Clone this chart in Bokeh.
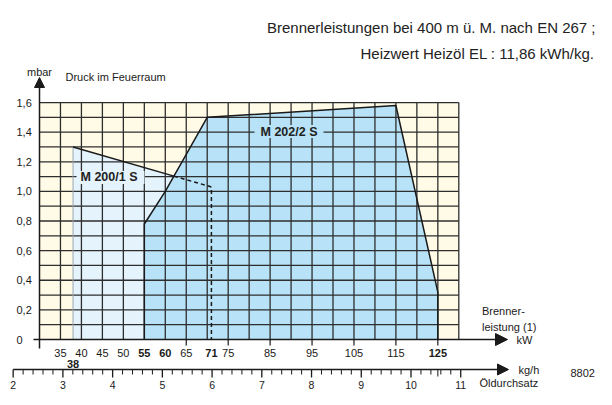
from bokeh.plotting import figure
from bokeh.models import Range1d, Arrow, NormalHead
from bokeh.core.properties import value
from bokeh.embed import file_html
from bokeh.resources import INLINE

# ---------------- data ----------------
HEIZWERT = 11.86  # kWh/kg

kw_grid = [35, 40, 45, 50, 55, 60, 65, 70, 75, 80, 85, 90, 95, 100, 105, 110, 115, 120, 125, 130]
mbar_grid = [0.1, 0.2, 0.3, 0.4, 0.5, 0.6, 0.7, 0.8, 0.9, 1.0, 1.1, 1.2, 1.3, 1.4, 1.5, 1.6]

y_tick_values = [0, 0.2, 0.4, 0.6, 0.8, 1.0, 1.2, 1.4, 1.6]
y_tick_labels = ["0", "0,2", "0,4", "0,6", "0,8", "1,0", "1,2", "1,4", "1,6"]

kw_labels_normal = [35, 40, 45, 50, 65, 75, 85, 95, 105, 115]
kw_labels_bold = [55, 60, 71, 125]
kw_label_low = [38]
kw_ticks = [65, 75, 85, 95, 105, 115, 125]

kgh_major = [2, 3, 4, 5, 6, 7, 8, 9, 10, 11]
kgh_minor = [2.2, 2.4, 2.6, 2.8, 3.2, 3.4, 3.6, 3.8, 4.2, 4.4, 4.6, 4.8,
             5.2, 5.4, 5.6, 5.8, 6.2, 6.4, 6.6, 6.8, 7.2, 7.4, 7.6, 7.8,
             8.2, 8.4, 8.6, 8.8, 9.2, 9.4, 9.6, 9.8, 10.2, 10.4, 10.6, 10.8]

# M 200/1 S working field
m200_kw = [38, 38, 71, 71]
m200_mbar = [0.0, 1.30, 1.03, 0.0]

# M 202/2 S working field
m202_kw = [55, 55, 60, 70, 115, 125, 125]
m202_mbar = [0.0, 0.78, 1.00, 1.50, 1.58, 0.32, 0.0]

# ---------------- pixel helpers (layout only) ----------------
SX, X0PX = 4.193, 39.0   # px per kW, canvas px of kW=30
SY, Y0PX = 148.1, 339.0  # px per mbar, canvas px of mbar=0
W, H = 596, 389


def kx(px):
    return 30 + (px - X0PX) / SX


def my(py):
    return (Y0PX - py) / SY


FONT = value("Liberation Sans")
INK = "#1a1a1a"
GRID = "#2e2e2e"
CREAM = "#fffbe6"
LIGHT = "#e4f3fc"
BLUE = "#b7e2f7"

p = figure(width=W, height=H, x_range=Range1d(kx(0), kx(W)), y_range=Range1d(my(H), my(0)),
           x_axis_type=None, y_axis_type=None, toolbar_location=None, output_backend="svg",
           min_border=0)
p.outline_line_color = None
p.grid.visible = False
p.background_fill_color = "white"
p.border_fill_color = "white"

# cream field
p.quad(left=[kw_grid[0] - 5], right=[kw_grid[-1]], bottom=[0], top=[mbar_grid[-1]],
       fill_color=CREAM, line_color=None)

# working fields
p.patch(m200_kw, m200_mbar, fill_color=LIGHT, line_color=None)
p.patch(m202_kw, m202_mbar, fill_color=BLUE, line_color=None)

# grid
p.segment(x0=kw_grid, y0=[0] * len(kw_grid), x1=kw_grid, y1=[mbar_grid[-1]] * len(kw_grid),
          line_color=GRID, line_width=1.3)
p.segment(x0=[kw_grid[0] - 5] * len(mbar_grid), y0=mbar_grid, x1=[kw_grid[-1]] * len(mbar_grid), y1=mbar_grid,
          line_color=GRID, line_width=1.3)

# left edge of M200 field
p.line([m200_kw[0], m200_kw[1]], [m200_mbar[0], m200_mbar[1]], line_color="#9aa7b0", line_width=1)

# label backgrounds (hide grid behind text)
p.quad(left=[kx(76)], right=[kx(144)], bottom=[my(183.5)], top=[my(170.5)], fill_color=LIGHT, line_color=None)
p.quad(left=[kx(254)], right=[kx(323)], bottom=[my(137.5)], top=[my(124.5)], fill_color=BLUE, line_color=None)

# M202 outline
p.line(m202_kw, m202_mbar, line_color=INK, line_width=1.5)

# M200 outline: solid until it meets the M202 field, dashed afterwards
a_slope = (m200_mbar[2] - m200_mbar[1]) / (m200_kw[2] - m200_kw[1])
b_slope = (m202_mbar[3] - m202_mbar[2]) / (m202_kw[3] - m202_kw[2])
xi = (m202_mbar[2] - b_slope * m202_kw[2] - m200_mbar[1] + a_slope * m200_kw[1]) / (a_slope - b_slope)
yi = m200_mbar[1] + a_slope * (xi - m200_kw[1])
p.line([m200_kw[1], xi], [m200_mbar[1], yi], line_color=INK, line_width=1.5)
p.line([xi, m200_kw[2], m200_kw[3]], [yi, m200_mbar[2], m200_mbar[3]], line_color=INK, line_width=1.5,
       line_dash="4 3")

# axes
p.add_layout(Arrow(end=NormalHead(size=10, fill_color=INK, line_color=INK), x_start=30, y_start=my(348),
                   x_end=30, y_end=my(77), line_color=INK, line_width=1.5))
p.add_layout(Arrow(end=NormalHead(size=12, fill_color=INK, line_color=INK), x_start=kx(33), y_start=0,
                   x_end=kx(507), y_end=0, line_color=INK, line_width=1.5))
kgh_y = my(369)
p.add_layout(Arrow(end=NormalHead(size=11, fill_color=INK, line_color=INK), x_start=kgh_major[0] * HEIZWERT,
                   y_start=kgh_y, x_end=kx(508), y_end=kgh_y, line_color=INK, line_width=1.5))

# kW ticks
p.segment(x0=kw_ticks, y0=[0] * len(kw_ticks), x1=kw_ticks, y1=[my(345)] * len(kw_ticks),
          line_color=INK, line_width=1.2)

# kg/h ticks
maj_x = [v * HEIZWERT for v in kgh_major]
min_x = [v * HEIZWERT for v in kgh_minor]
p.segment(x0=maj_x, y0=[kgh_y] * len(maj_x), x1=maj_x, y1=[my(377)] * len(maj_x), line_color=INK, line_width=1.3)
p.segment(x0=min_x, y0=[kgh_y] * len(min_x), x1=min_x, y1=[my(374)] * len(min_x), line_color=INK, line_width=1)
p.segment(x0=[m202_kw[-1]], y0=[kgh_y], x1=[m202_kw[-1]], y1=[my(376)], line_color=INK, line_width=1)

# tick labels
p.text(x=[kx(16)] * len(y_tick_values), y=y_tick_values, text=y_tick_labels, text_font=FONT,
       text_font_size="11px", text_color=INK, text_align="left", text_baseline="middle")
p.text(x=kw_labels_normal, y=[my(352.5)] * len(kw_labels_normal), text=[str(v) for v in kw_labels_normal],
       text_font=FONT, text_font_size="11px", text_color=INK, text_align="center", text_baseline="middle")
p.text(x=kw_labels_bold, y=[my(352.5)] * len(kw_labels_bold), text=[str(v) for v in kw_labels_bold],
       text_font=FONT, text_font_size="11px", text_font_style="bold", text_color=INK,
       text_align="center", text_baseline="middle")
p.text(x=kw_label_low, y=[my(363.5)], text=[str(v) for v in kw_label_low],
       text_font=FONT, text_font_size="11px", text_font_style="bold", text_color=INK,
       text_align="center", text_baseline="middle")
p.text(x=maj_x, y=[my(388)] * len(maj_x), text=[str(v) for v in kgh_major],
       text_font=FONT, text_font_size="10.5px", text_color=INK, text_align="center", text_baseline="bottom")

# field labels
p.text(x=[kx(108.5)], y=[1.1], text=["M 200/1 S"], text_font=FONT, text_font_size="12.5px",
       text_font_style="bold", text_color="#222222", text_align="center", text_baseline="middle")
p.text(x=[kx(288.5)], y=[1.4], text=["M 202/2 S"], text_font=FONT, text_font_size="12.5px",
       text_font_style="bold", text_color="#222222", text_align="center", text_baseline="middle")

# axis titles and notes
small = dict(text_font=FONT, text_font_size="11px", text_color=INK)
p.text(x=[30], y=[my(71.5)], text=["mbar"], text_align="center", text_baseline="alphabetic", **small)
p.text(x=[kx(65)], y=[my(76.5)], text=["Druck im Feuerraum"], text_align="left", text_baseline="alphabetic",
       **small)
p.text(x=[kx(481.5)], y=[my(310.5)], text=["Brenner-"], text_align="left", text_baseline="alphabetic", **small)
p.text(x=[kx(481.5)], y=[my(326.5)], text=["leistung (1)"], text_align="left", text_baseline="alphabetic",
       **small)
p.text(x=[kx(516)], y=[0], text=["kW"], text_align="left", text_baseline="middle", **small)
p.text(x=[kx(518)], y=[kgh_y], text=["kg/h"], text_align="left", text_baseline="middle", **small)
p.text(x=[kx(479)], y=[my(388)], text=["Öldurchsatz"], text_align="left", text_baseline="bottom", **small)
p.text(x=[kx(570)], y=[my(372)], text=["8802"], text_align="left", text_baseline="middle", **small)

title_font = value("Liberation Sans")
p.text(x=[kx(595)], y=[my(26.7)], text=["Brennerleistungen bei 400 m ü. M. nach EN 267 ;"],
       text_font=title_font, text_font_size="15px", text_color="#222222", text_align="right",
       text_baseline="alphabetic")
p.text(x=[kx(594)], y=[my(53.3)], text=["Heizwert Heizöl EL : 11,86 kWh/kg."],
       text_font=title_font, text_font_size="15px", text_color="#222222", text_align="right",
       text_baseline="alphabetic")

open("out.html", "w").write(file_html(p, INLINE))
